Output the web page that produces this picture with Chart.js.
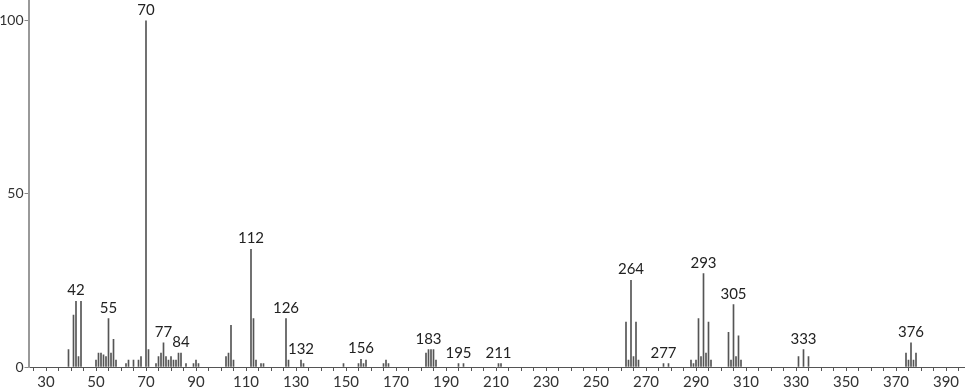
<!DOCTYPE html>
<html><head><meta charset="utf-8">
<script src="https://cdn.jsdelivr.net/npm/chart.js@4/dist/chart.umd.min.js"></script>
<style>html,body{margin:0;padding:0;background:#fff;overflow:hidden}#wrap{width:966px;height:389px;position:relative}</style>
</head><body><div id="wrap"><canvas id="c"></canvas></div>
<script>
// m/z values and relative intensities
const mz = [39,41,42,43,44,50,51,52,53,54,55,56,57,58,62,63,65,67,68,70,71,74,75,76,77,78,79,80,81,82,83,84,86,89,90,91,
  102,103,104,105,112,113,114,116,117,126,127,132,133,149,155,156,157,158,165,166,167,182,183,184,185,186,195,197,211,212,
  262,263,264,265,266,267,277,279,288,289,290,291,292,293,294,295,296,303,304,305,306,307,308,331,333,335,374,375,376,377,378];
const intensity = [5,15,19,3,19,2,4,4,3.5,3,14,4,8,2,1,2,2,2,3,100,5,1,3,4,7,3,2,3,2,2,4,4,1,1,2,1,
  3,4,12,2,34,14,2,1,1,14,2,2,1,1,1,2.2,1,2,1,2,1,4,5,5,5,2,1,1,1,1,
  13,2,25,3,13,2,1,1,2,1,2,14,3,27,4,13,2,10,2,18,3,9,2,3,5,3,4,2,7,2,4];
const labeledPeaks = [42,55,70,77,84,112,126,132,156,183,195,211,264,277,293,305,333,376];
const xTickLabels = [30,50,70,90,110,130,150,170,190,210,230,250,270,290,310,330,350,370,390];
const yTickLabels = [0,50,100];

Chart.defaults.font.family = 'Lato, "Open Sans", sans-serif';
Chart.defaults.font.size = 15;

const peakLabelPlugin = {
  id: 'peakLabels',
  afterDatasetsDraw(chart) {
    const {ctx, scales: {x, y}} = chart;
    ctx.save();
    ctx.font = '15px Lato, "Open Sans", sans-serif';
    ctx.fillStyle = '#222';
    ctx.textAlign = 'center';
    ctx.textBaseline = 'alphabetic';
    labeledPeaks.forEach(m => {
      const i = mz.indexOf(m);
      if (i < 0) return;
      ctx.fillText(String(m), x.getPixelForValue(m), y.getPixelForValue(intensity[i]) - 6);
    });
    ctx.restore();
  }
};

new Chart(document.getElementById('c'), {
  type: 'bar',
  data: {
    datasets: [{
      data: mz.map((m, i) => ({x: m, y: intensity[i]})),
      backgroundColor: '#555',
      borderWidth: 0,
      barThickness: 1
    }]
  },
  options: {
    responsive: true,
    maintainAspectRatio: false,
    animation: false,
    devicePixelRatio: 1,
    layout: {padding: {left: 0, right: 2, top: 0, bottom: 0}},
    plugins: {legend: {display: false}, tooltip: {enabled: false}},
    scales: {
      x: {
        type: 'linear', min: 23, max: 397.2, offset: false,
        grid: {drawOnChartArea: false, drawTicks: true, tickLength: 4, color: '#555', offset: false},
        border: {color: '#555', width: 1},
        ticks: {
          stepSize: 5, includeBounds: false, autoSkip: false, maxRotation: 0, minRotation: 0,
          padding: 2, color: '#333',
          callback: v => xTickLabels.includes(Math.round(v)) ? String(Math.round(v)) : ''
        },
        afterFit: s => { s.height = 22; s.paddingLeft = 0; s.paddingRight = 0; }
      },
      y: {
        min: 0, max: 106,
        grid: {drawOnChartArea: false, drawTicks: true, tickLength: 4, color: '#888'},
        border: {color: '#999', width: 2},
        ticks: {
          stepSize: 50, includeBounds: false, padding: 1, color: '#333', font: {size: 14},
          callback: v => yTickLabels.includes(Math.round(v)) ? String(Math.round(v)) : ''
        },
        afterFit: s => { s.width = 28.5; s.paddingTop = 0; s.paddingBottom = 0; }
      }
    }
  },
  plugins: [peakLabelPlugin]
});
</script></body></html>
